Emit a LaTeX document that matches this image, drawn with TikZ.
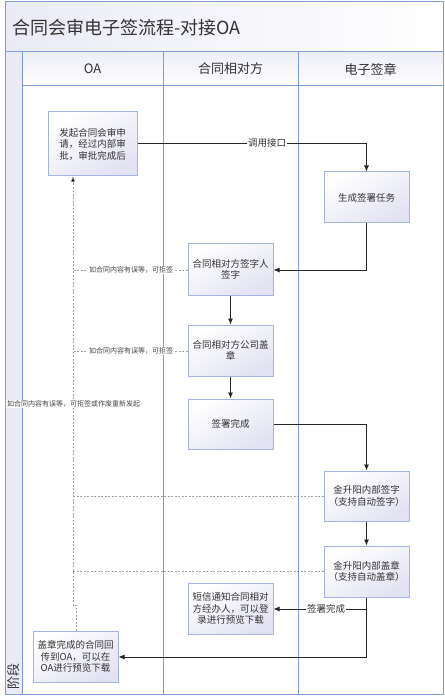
\documentclass[tikz,border=0pt]{standalone}
\usepackage{fontspec}
\setmainfont{Noto Sans CJK SC}
\usetikzlibrary{arrows.meta}
\definecolor{lane}{HTML}{7F9BD9}
\definecolor{boxline}{HTML}{A3B5E2}
\definecolor{boxbot}{HTML}{E2E2F3}
\definecolor{txt}{HTML}{333333}
\definecolor{dash}{HTML}{A0A0A0}
\tikzset{
  proc/.style={draw=boxline, line width=1pt, top color=white, bottom color=boxbot, shading angle=30,
    minimum width=85pt, minimum height=51pt, align=center, text=txt, inner sep=2pt,
    font=\fontsize{9.5}{11.5}\selectfont},
  flow/.style={draw=black!85, line width=0.8pt, -{Latex[length=6pt,width=5pt]}},
  flowplain/.style={draw=black!85, line width=0.8pt},
  rej/.style={draw=dash, line width=0.6pt, dash pattern=on 2pt off 1.5pt},
  rejarrow/.style={rej, -{Latex[length=6pt,width=5pt,fill=black]}},
  flab/.style={fill=white, inner sep=1pt, text=txt, font=\fontsize{9.5}{11}\selectfont},
  slab/.style={fill=white, inner sep=1pt, text=txt!90, font=\fontsize{7}{8}\selectfont},
  hdr/.style={text=txt, font=\fontsize{13}{15}\selectfont}
}
\begin{document}
\begin{tikzpicture}[x=1pt,y=-1pt]
\useasboundingbox (0,0) rectangle (444,700);
% title band
\shade[left color=boxbot!70, right color=white] (5,2) rectangle (443,52);
\node[anchor=west, text=txt, font=\fontsize{18}{20}\selectfont] (title) at (9,28) {合同会审电子签流程-对接OA};
% left phase column
\fill[boxbot!70] (5,52) rectangle (22,694);
% header cells
\shade[top color=boxbot!60, bottom color=white] (22,52) rectangle (443,86);
\node[hdr] (h1) at (92.5,69) {OA};
\node[hdr] (h2) at (230.5,69) {合同相对方};
\node[hdr] (h3) at (370.5,69) {电子签章};
% lane lines
\draw[lane, line width=1pt] (5,2) rectangle (443,694);
\draw[lane, line width=1pt] (5,52) -- (443,52);
\draw[lane, line width=1pt] (22,86) -- (443,86);
\draw[lane, line width=1pt] (22,52) -- (22,694);
\draw[lane, line width=1pt] (163,52) -- (163,694);
\draw[lane, line width=1pt] (298,52) -- (298,694);
\node[rotate=90, text=txt, font=\fontsize{13}{15}\selectfont] (phase) at (13.5,676) {阶段};
% boxes
\node[proc, minimum width=89pt, minimum height=64pt] (A) at (92.5,144) {发起合同会审申\\请，经过内部审\\批，审批完成后};
\node[proc] (B) at (366.5,197.5) {生成签署任务};
\node[proc] (C) at (230.5,269.5) {合同相对方签字人\\签字};
\node[proc] (D) at (230.5,350.5) {合同相对方公司盖\\章};
\node[proc, minimum height=50pt] (E) at (230.5,424) {签署完成};
\node[proc, minimum height=50pt] (G) at (366.5,496) {金升阳内部签字\\（支持自动签字）};
\node[proc] (H) at (366.5,571.5) {金升阳内部盖章\\（支持自动盖章）};
\node[proc] (I) at (230.5,608.5) {短信通知合同相对\\方经办人，可以登\\录进行预览下载};
\node[proc] (F) at (75.5,656.5) {盖章完成的合同回\\传到OA，可以在\\OA进行预览下载};
% coordinates
\coordinate (a1) at (366.5,143);
\coordinate (b1) at (366.5,270);
\coordinate (e1) at (366.5,424);
\coordinate (h1c) at (366.5,609);
\coordinate (h2c) at (366.5,657);
\coordinate (r1) at (73,270);
\coordinate (r2) at (73,351);
\coordinate (r3) at (73,496);
\coordinate (r4) at (73,571);
\coordinate (f1) at (76,605);
\coordinate (f2) at (73,605);
\coordinate (atop) at (73,176);
% solid flows
\draw[flow] (A.east |- a1) -- (a1) -- (B.north);
\node[flab] (l1) at (267,143) {调用接口};
\draw[flow] (B.south) -- (b1) -- (C.east |- b1);
\draw[flow] (C.south) -- (D.north);
\draw[flow] (D.south) -- (E.north);
\draw[flow] (E.east |- e1) -- (e1) -- (G.north);
\draw[flow] (G.south) -- (H.north);
\draw[flow] (H.south) -- (h1c) -- (I.east |- h1c);
\node[flab] (l2) at (326,609) {签署完成};
\draw[flow] (h1c) -- (h2c) -- (F.east |- h2c);
% reject dashed
\draw[rej] (C.west |- r1) -- (r1);
\node[slab] (l3) at (131,270) {如合同内容有误等，可拒签};
\draw[rej] (D.west |- r2) -- (r2);
\node[slab] (l4) at (131,351) {如合同内容有误等，可拒签};
\draw[rej] (G.west |- r3) -- (r3);
\draw[rej] (H.west |- r4) -- (r4);
\draw[rejarrow] (F.north -| f1) -- (f1) -- (f2) -- (atop);
\node[slab] (l5) at (73.5,404) {如合同内容有误等，可拒签或作废重新发起};
\end{tikzpicture}
\end{document}
